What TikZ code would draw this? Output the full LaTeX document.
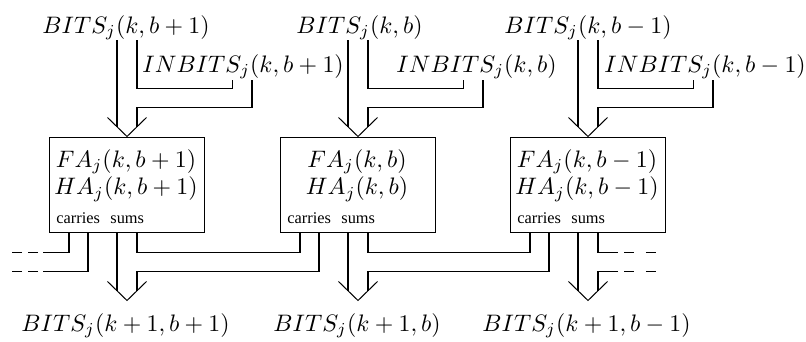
\documentclass[tikz,border=0pt]{standalone}
\usepackage{fontspec}
\newfontfamily\tagfont{Liberation Serif}
\usetikzlibrary{calc}
\tikzset{
  bus/.style={line width=0.42pt, line join=miter, line cap=butt},
  adder/.style={draw, line width=0.42pt, minimum width=64.59pt, minimum height=40.26pt, inner sep=0pt},
  lbl/.style={inner sep=0pt, anchor=base west},
  cell/.style={inner sep=0pt, anchor=base},
  tag/.style={inner sep=0pt, anchor=base west, font=\tagfont\fontsize{6.85}{7.5}\selectfont},
  ldash/.style={bus, dash pattern=on 4.19pt off 2.52pt},
  rdash/.style={bus, dash pattern=on 4.19pt off 5.03pt},
}
\begin{document}
\begin{tikzpicture}[x=0.4194pt, y=-0.4194pt]
\useasboundingbox (0,0) rectangle (806,342);

% adder cells
\node[adder] (box1) at (127,185) {};
\node[adder] (box2) at (358,185) {};
\node[adder] (box3) at (588,185) {};

\node[cell] (fa1) at (126,167) {$FA_j(k,b+1)$};
\node[cell] (ha1) at (126,195) {$HA_j(k,b+1)$};
\node[cell] (fa2) at (357,167) {$FA_j(k,b)$};
\node[cell] (ha2) at (357,195) {$HA_j(k,b)$};
\node[cell] (fa3) at (587,167) {$FA_j(k,b-1)$};
\node[cell] (ha3) at (587,195) {$HA_j(k,b-1)$};

\node[tag] (car1) at (56,223) {carries};
\node[tag] (sum1) at (110,223) {sums};
\node[tag] (car2) at (287,223) {carries};
\node[tag] (sum2) at (341,223) {sums};
\node[tag] (car3) at (517,223) {carries};
\node[tag] (sum3) at (571,223) {sums};

% input labels
\node[lbl] (bitsin1) at (42,33) {$BITS_j(k,b+1)$};
\node[lbl] (bitsin2) at (296,33) {$BITS_j(k,b)$};
\node[lbl] (bitsin3) at (504,33) {$BITS_j(k,b-1)$};
\node[lbl] (inb1) at (142,72) {$INBITS_j(k,b+1)$};
\node[lbl] (inb2) at (396,72) {$INBITS_j(k,b)$};
\node[lbl] (inb3) at (604,72) {$INBITS_j(k,b-1)$};

% output labels
\node[lbl] (out1) at (21,331) {$BITS_j(k+1,b+1)$};
\node[lbl] (out2) at (273,331) {$BITS_j(k+1,b)$};
\node[lbl] (out3) at (482,331) {$BITS_j(k+1,b-1)$};

% merged input buses and their arrow heads
\foreach \i in {1,2,3}{
  \coordinate (la\i) at ($(box\i.north)+(-10,0)$);
  \coordinate (ra\i) at ($(box\i.north)+(10,0)$);
  \coordinate (li\i) at ($(box\i.north)+(105.5,0)$);
  \coordinate (ri\i) at ($(box\i.north)+(125,0)$);
  \draw[bus] ($(box\i.north)+(-19.5,-19)$) -- (box\i.north) -- ($(box\i.north)+(19.5,-19)$);
  \draw[bus] (la\i |- bitsin\i.south) -- ($(la\i)+(0,-9.75)$);
  \draw[bus] (ra\i |- bitsin\i.south) |- ($(li\i)+(0,-48)$) -- ($(li\i |- inb\i.base)+(0,8)$);
  \draw[bus] ($(ri\i |- inb\i.base)+(0,8)$) |- ($(ra\i)+(0,-29)$) -- ($(ra\i)+(0,-9.75)$);
}

% output buses: carries and sums
\foreach \i in {1,2,3}{
  \coordinate (ca\i) at ($(box\i.south)+(-58,0)$);
  \coordinate (cb\i) at ($(box\i.south)+(-39,0)$);
  \coordinate (sa\i) at ($(box\i.south)+(-10,0)$);
  \coordinate (sb\i) at ($(box\i.south)+(10,0)$);
  \draw[bus] ($(box\i.south)+(-19.5,48)$) -- ($(box\i.south)+(0,67)$) -- ($(box\i.south)+(19.5,48)$);
  \draw[bus] (sa\i) -- ($(sa\i)+(0,57.25)$);
}

% carries of one cell join the sums of its left neighbour
\foreach \i/\j in {1/2, 2/3}{
  \draw[bus] (sb\i) |- ($(ca\j)+(0,19)$) -- (ca\j);
  \draw[bus] (cb\j) |- ($(sb\i)+(0,38)$) -- ($(sb\i)+(0,57.25)$);
}

% carries leaving to the left
\draw[bus] (ca1) |- ($(ca1)+(-26,19)$) coordinate (wa);
\draw[ldash] (wa) ++(-5,0) -- ++(-26,0);
\draw[bus] (cb1) |- ($(ca1)+(-26,38)$) coordinate (wb);
\draw[ldash] (wb) ++(-5,0) -- ++(-26,0);

% carries arriving from the right
\draw[bus] (sb3) |- ($(sb3)+(20,19)$) coordinate (ea);
\draw[rdash] (ea) ++(6,0) -- ++(32,0);
\coordinate (eb) at ($(sb3)+(20,38)$);
\draw[bus] (eb) -| ($(sb3)+(0,57.25)$);
\draw[rdash] (eb) ++(6,0) -- ++(32,0);
\end{tikzpicture}
\end{document}
